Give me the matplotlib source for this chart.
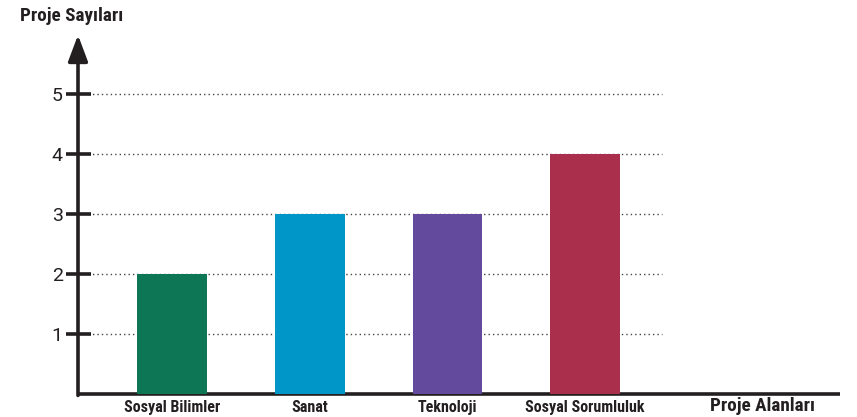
import matplotlib
matplotlib.use("Agg")
import matplotlib.pyplot as plt

categories = ["Sosyal Bilimler", "Sanat", "Teknoloji", "Sosyal Sorumluluk"]
values = [2, 3, 3, 4]
colors = ["#0d7655", "#0096c8", "#634a9c", "#a92f4c"]
yticks = [1, 2, 3, 4, 5]

cond = ["Roboto Condensed", "DejaVu Sans"]

W, H = 857, 417
fig = plt.figure(figsize=(W / 100, H / 100), dpi=100)
ax = fig.add_axes([78 / W, 1 - 394 / H, (840 - 78) / W, (394 - 35) / H])

x = list(range(len(categories)))
ax.bar(x, values, width=0.508, color=colors, zorder=3)

ax.set_xlim(-0.683, 4.85)
ax.set_ylim(0, 5.98)

for v in yticks:
    ax.plot([-0.61, 3.56], [v, v], linestyle=(0, (1, 2.2)), color="#444444", lw=1.0, zorder=1)

for s in ["top", "right", "left"]:
    ax.spines[s].set_visible(False)
ax.spines["bottom"].set_linewidth(2.6)
ax.spines["bottom"].set_color("#231f20")
ax.spines["bottom"].set_capstyle("butt")

# y axis with arrow
ax.annotate("", xy=(0, 1.0), xytext=(0, -0.004), xycoords="axes fraction",
            arrowprops=dict(arrowstyle="-|>,head_length=0.8,head_width=0.3", lw=2.6,
                            mutation_scale=20, color="#231f20", shrinkA=0, shrinkB=0), zorder=5)

ax.set_yticks(yticks)
ax.set_yticklabels([str(v) for v in yticks], fontsize=14, color="#231f20",
                   family=["Roboto", "DejaVu Sans"])
ax.tick_params(axis="y", direction="inout", length=18, width=2.6, color="#231f20", pad=2)
ax.set_xticks(x)
ax.set_xticklabels(categories, fontsize=11.5, fontweight="bold", family=cond, color="#231f20")
ax.tick_params(axis="x", length=0, pad=4)

fig.text(20 / W, 1 - 16 / H, "Proje Sayıları", fontsize=13.8, fontweight="bold", family=cond,
         va="center", ha="left", color="#231f20")
fig.text(710 / W, 1 - 406 / H, "Proje Alanları", fontsize=13.8, fontweight="bold", family=cond,
         va="center", ha="left", color="#231f20")

fig.savefig("out.png", dpi=100)
